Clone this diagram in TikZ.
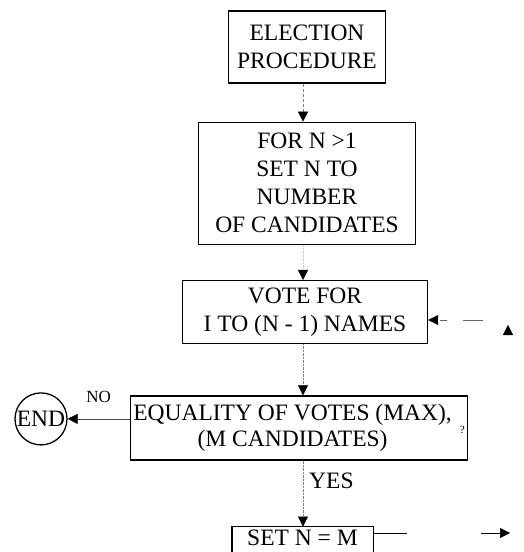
\documentclass[tikz,border=0pt]{standalone}
\usepackage{fontspec}
\setmainfont{Liberation Serif}
\usetikzlibrary{positioning,arrows.meta}
\tikzset{procbox/.style = {draw, line width=1.3pt, align=center, inner sep=3pt, font=\fontsize{23.5}{28}\selectfont}}
\tikzset{endpoint/.style = {draw, circle, line width=1.3pt, inner sep=0pt, minimum size=52pt, font=\fontsize{23.5}{28}\selectfont}}
\tikzset{flow/.style = {->, black!50, densely dotted, thin}}
\tikzset{answer/.style = {inner sep=1pt, font=\fontsize{23.5}{28}\selectfont}}

\begin{document}
\begin{tikzpicture}[x=1pt, y=-1pt, >={Triangle[width=10pt,length=10pt,color=black]}]
  \useasboundingbox (0,0) rectangle (523,552);
  \clip (0,0) rectangle (523,552);
  \coordinate (axis) at (303,0);

  \node [procbox, minimum width=157pt, minimum height=72pt] (elect) at (307,47) {ELECTION\\PROCEDURE};
  \node [procbox, below=38pt of elect, minimum width=217pt, minimum height=122pt] (setn) {FOR N >1\\SET N TO\\NUMBER\\OF CANDIDATES};
  \node [procbox, below=35pt of setn, xshift=-2pt, minimum width=245pt, minimum height=63pt] (vote) {VOTE FOR\\I TO (N - 1) NAMES};
  \node [procbox, below=51pt of vote, xshift=-6pt, minimum width=333pt, minimum height=64pt] (equal)
    {\begin{tabular}{@{}c@{}}EQUALITY OF VOTES (MAX),\\[-2pt](M CANDIDATES)\end{tabular}\hspace{8pt}\raisebox{1pt}{\fontsize{11}{11}\selectfont ?}};
  \node [endpoint, left=62pt of equal, yshift=9pt] (done) {END};
  \node [procbox, draw=none, below=66pt of equal, xshift=3.5pt, minimum width=140pt, minimum height=22pt, inner ysep=1pt] (setm) {SET N = M};
  \draw [line width=1.3pt] ([yshift=-20pt]setm.south west) -- (setm.north west) -- (setm.north east) -- ([yshift=-20pt]setm.south east);

  \coordinate (out) at (510,533);
  \coordinate (back) at (483,320);
  \coordinate (upend) at (508,326);

  \draw [flow, densely dashed] (elect.south -| axis) -- (setn.north -| axis);
  \draw [flow, black!20] (setn.south -| axis) -- (vote.north -| axis);
  \draw [flow] (vote.south -| axis) -- (equal.north -| axis);
  \draw [flow] (equal.south -| axis) -- (setm.north -| axis) node [answer, pos=0.3, right=5pt, text=black] {YES};
  \draw [->, thin, black!70] (equal.west |- done) -- (done) node [answer, midway, above=15pt, text=black, font=\fontsize{17}{20}\selectfont] {NO};

  \draw [->, line width=0.6pt, dash pattern=on 34pt off 74pt on 30pt] (setm.east |- out) -- (out);
  \draw [->, thin, black!60, dash pattern=on 20pt off 16pt on 7pt off 30pt] (back) -- (back -| vote.east);
  \draw [->] (upend) -- ++(0,-1);
\end{tikzpicture}
\end{document}
